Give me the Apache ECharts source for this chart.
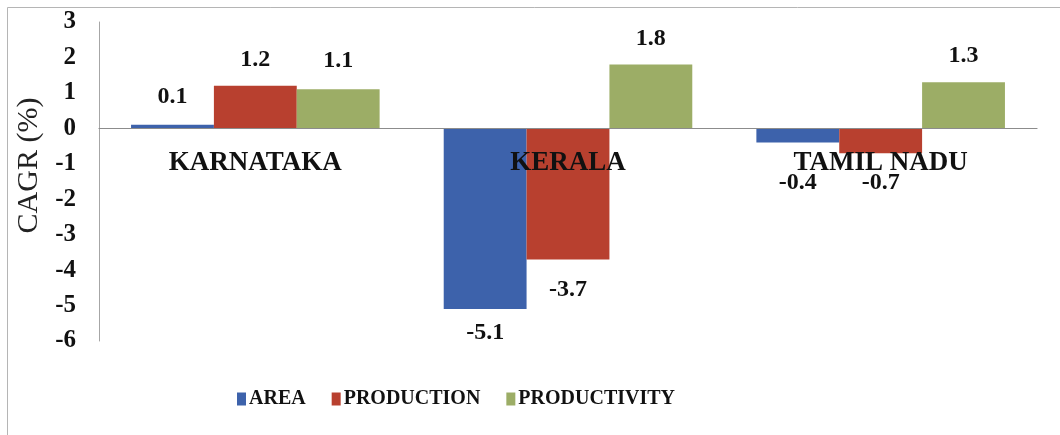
<!DOCTYPE html>
<html>
<head>
<meta charset="utf-8">
<script src="https://cdn.jsdelivr.net/npm/echarts@6/dist/echarts.min.js"></script>
<style>
  html, body { margin: 0; padding: 0; background: #fff; }
  #chart { width: 1060px; height: 435px; }
</style>
</head>
<body>
<div id="chart"></div>
<script>
// Compound annual growth rate by state
const states = ['KARNATAKA', 'KERALA', 'TAMIL NADU'];
const area = [0.1, -5.1, -0.4];
const production = [1.2, -3.7, -0.7];
const productivity = [1.1, 1.8, 1.3];
const yTicks = { min: -6, max: 3, step: 1 };

const SERIF = '"Liberation Serif", "Times New Roman", serif';

// gap between each value label and the end of its bar
const labelGap = {
  AREA: [16, 12, 28],
  PRODUCTION: [14, 18, 18],
  PRODUCTIVITY: [17, 14, 14]
};

function makeSeries(name, values, color) {
  return {
    name: name,
    type: 'bar',
    barGap: '0%',
    barCategoryGap: '20.5%',
    itemStyle: { color: color },
    data: values.map((v, i) => ({
      value: v,
      label: {
        show: true,
        position: v < 0 ? 'bottom' : 'top',
        distance: labelGap[name][i],
        formatter: (p) => p.value.toFixed(1),
        fontFamily: SERIF,
        fontWeight: 'bold',
        fontSize: 24,
        color: '#111'
      }
    }))
  };
}

const chart = echarts.init(document.getElementById('chart'), null, { renderer: 'canvas' });
chart.setOption({
  animation: false,
  backgroundColor: '#fff',
  graphic: [{
    type: 'rect',
    shape: { x: 7.5, y: 7.5, width: 1100, height: 500 },
    style: { fill: 'none', stroke: '#b5b5b5', lineWidth: 1 },
    silent: true
  }],
  grid: { left: 99, right: 23, top: 22, bottom: 94, containLabel: false, outerBoundsMode: 'none' },
  legend: {
    left: 232,
    top: 384,
    itemWidth: 9,
    itemHeight: 13,
    itemGap: 26,
    icon: 'rect',
    textStyle: { fontFamily: SERIF, fontWeight: 'bold', fontSize: 20, color: '#111', padding: [0, 0, 0, -2] },
    data: ['AREA', 'PRODUCTION', 'PRODUCTIVITY']
  },
  xAxis: {
    type: 'category',
    data: states,
    z: 10,
    axisLine: { onZero: true, lineStyle: { color: '#8c8c8c', width: 1.2 } },
    axisTick: { show: false },
    // category names sit just under the zero line
    axisLabel: {
      margin: -191,
      fontFamily: SERIF,
      fontWeight: 'bold',
      fontSize: 27,
      color: '#111'
    }
  },
  yAxis: {
    type: 'value',
    min: yTicks.min,
    max: yTicks.max,
    interval: yTicks.step,
    name: 'CAGR (%)',
    nameLocation: 'middle',
    nameGap: 46,
    nameTextStyle: { fontFamily: SERIF, fontSize: 30, color: '#222', padding: [0, 0, 0, 32] },
    axisLine: { show: true, lineStyle: { color: '#a6a6a6', width: 1 } },
    axisTick: { show: false },
    splitLine: { show: false },
    axisLabel: {
      margin: 23,
      fontFamily: SERIF,
      fontWeight: 'bold',
      fontSize: 25,
      color: '#111'
    }
  },
  series: [
    makeSeries('AREA', area, '#3d62ab'),
    makeSeries('PRODUCTION', production, '#b8402f'),
    makeSeries('PRODUCTIVITY', productivity, '#9cad66')
  ]
});
</script>
</body>
</html>
